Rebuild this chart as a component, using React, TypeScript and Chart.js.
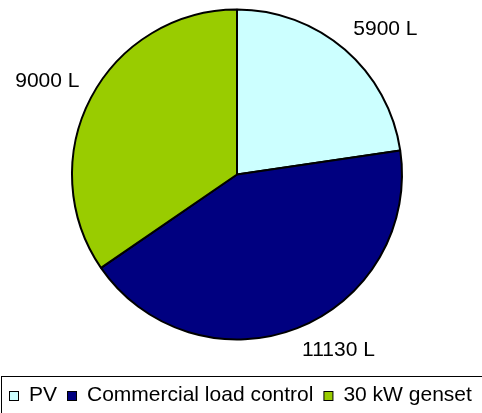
import React, { useEffect, useRef } from "react";
import { Chart, registerables } from "chart.js";

Chart.register(...registerables);

const categories = ["PV", "Commercial load control", "30 kW genset"];
const values = [5900, 11130, 9000];
const valueLabels = ["5900 L", "11130 L", "9000 L"];
const colors = ["#CCFFFF", "#000080", "#99CC00"];

const FONT = "21px 'Liberation Sans', Arial, sans-serif";

const labelPlugin = {
  id: "outerLabels",
  afterDatasetsDraw(chart: any) {
    const ctx = chart.ctx;
    const meta = chart.getDatasetMeta(0);
    ctx.save();
    ctx.font = FONT;
    ctx.fillStyle = "#000";
    meta.data.forEach((arc: any, i: number) => {
      const mid = (arc.startAngle + arc.endAngle) / 2;
      const dx = Math.cos(mid);
      const dy = Math.sin(mid);
      const r = arc.outerRadius + 13;
      const ax = arc.x + r * dx;
      const ay = arc.y + r * dy;
      ctx.textAlign = dx >= 0 ? "left" : "right";
      ctx.textBaseline = dy >= 0 ? "top" : "bottom";
      ctx.fillText(valueLabels[i], ax, ay);
    });
    ctx.restore();
  },
};

const legendPlugin = {
  id: "boxLegend",
  afterDraw(chart: any) {
    const ctx = chart.ctx;
    ctx.save();
    ctx.strokeStyle = "#000";
    ctx.lineWidth = 1;
    ctx.strokeRect(1.5, 376.5, 600, 100);
    ctx.font = FONT;
    ctx.textAlign = "left";
    ctx.textBaseline = "alphabetic";
    let x = 9;
    const sq = 9;
    const baseY = 401;
    chart.data.labels.forEach((lab: string, i: number) => {
      ctx.fillStyle = colors[i];
      ctx.fillRect(x + 0.5, baseY - sq - 0.5, sq, sq);
      ctx.strokeStyle = "#000";
      ctx.strokeRect(x + 0.5, baseY - sq - 0.5, sq, sq);
      x += sq + 11;
      ctx.fillStyle = "#000";
      ctx.fillText(lab, x, baseY);
      x += ctx.measureText(lab).width + 10;
    });
    ctx.restore();
  },
};

export default function App() {
  const ref = useRef<HTMLCanvasElement>(null);
  useEffect(() => {
    if (!ref.current) return;
    const chart = new Chart(ref.current, {
      type: "pie",
      data: {
        labels: categories,
        datasets: [
          {
            data: values,
            backgroundColor: colors,
            borderColor: "#000",
            borderWidth: 2,
          },
        ],
      },
      options: {
        animation: false,
        responsive: true,
        maintainAspectRatio: false,
        radius: 165,
        layout: { padding: { left: 0, right: 8, top: 2, bottom: 66 } },
        plugins: {
          legend: { display: false },
          tooltip: { enabled: false },
        },
      } as any,
      plugins: [labelPlugin, legendPlugin],
    });
    return () => chart.destroy();
  }, []);
  return (
    <div style={{ position: "fixed", left: 0, top: 0, width: 482, height: 413, background: "#fff" }}>
      <canvas ref={ref} />
    </div>
  );
}
